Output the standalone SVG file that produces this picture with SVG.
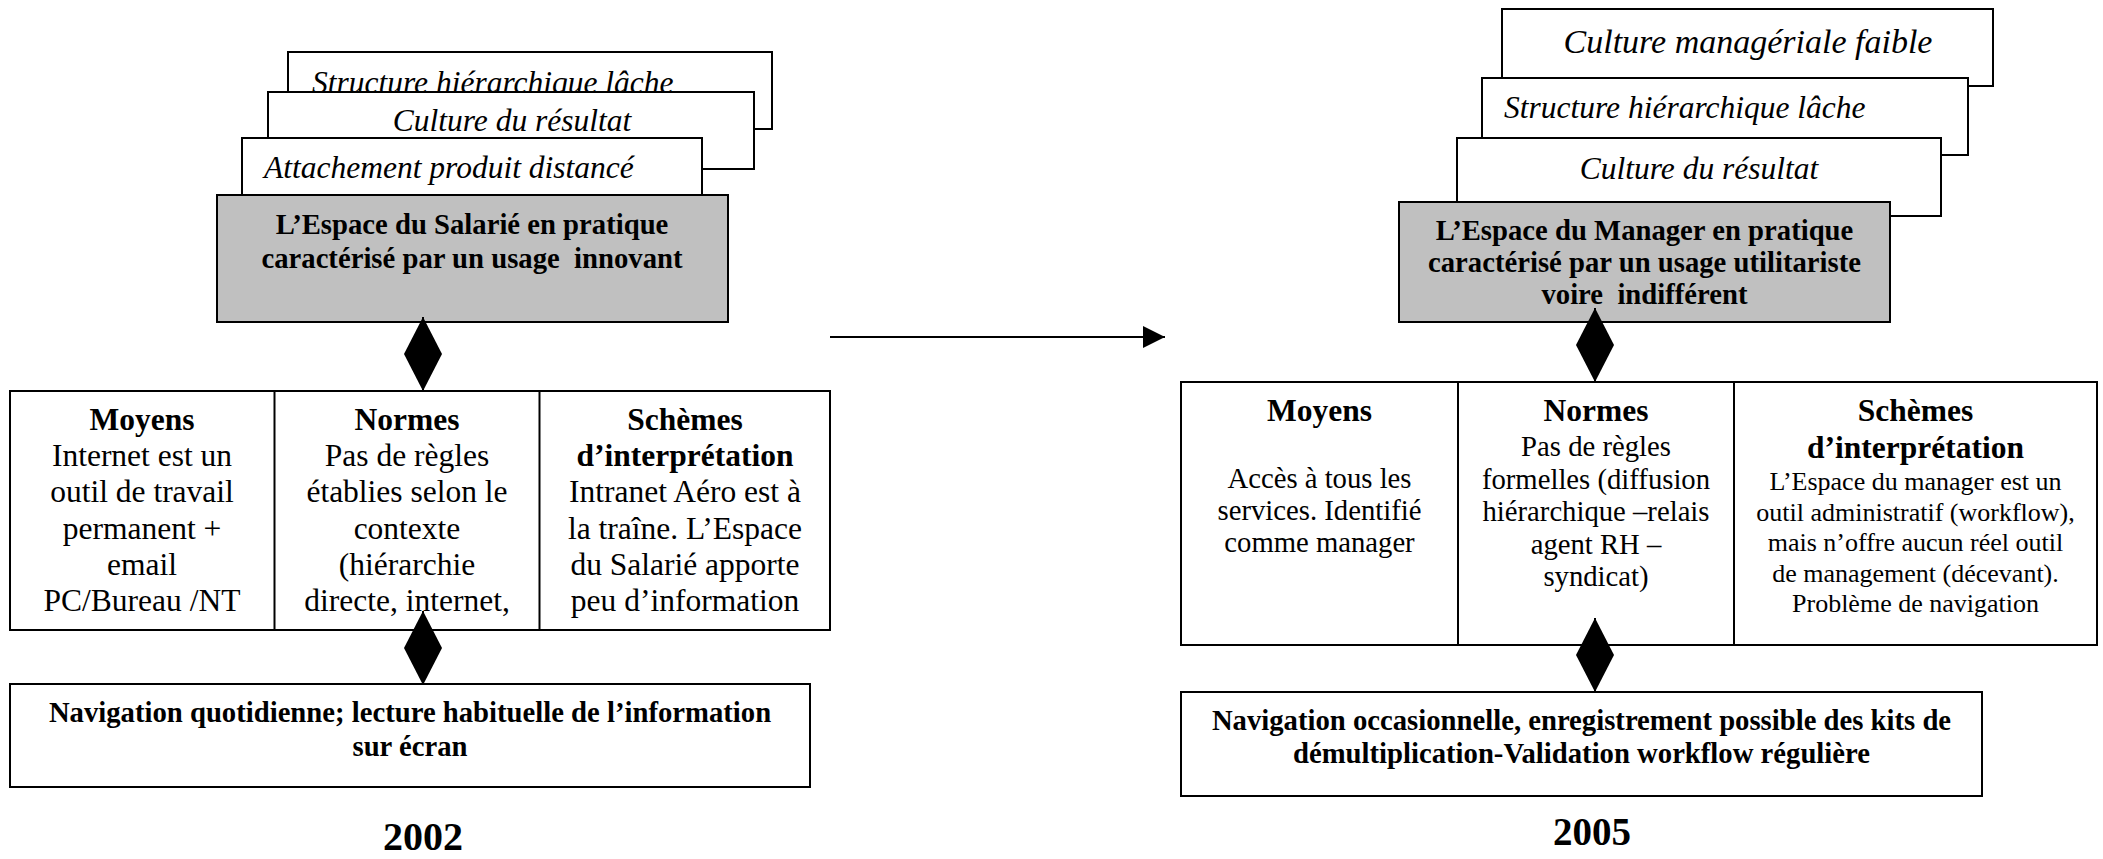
<svg xmlns="http://www.w3.org/2000/svg" width="2103" height="859" viewBox="0 0 2103 859">
<style>
.box{fill:#fff;stroke:#000;stroke-width:2}
.gray{fill:#c0c0c0;stroke:#000;stroke-width:2}
.ln{stroke:#000;stroke-width:2;fill:none}
text{font-family:"Liberation Serif","Times New Roman",serif;fill:#000;white-space:pre}
.it{font-style:italic;font-size:31.5px}
.b{font-weight:bold}
.c{text-anchor:middle}
.s32{font-size:31.5px}
.s29{font-size:28.7px}
.s26{font-size:26px}
.yr{font-size:40px;font-weight:bold;text-anchor:middle}
</style>
<defs>
<marker id="dh" viewBox="0 0 37 38" refX="37" refY="19" markerWidth="37" markerHeight="38" markerUnits="userSpaceOnUse" orient="auto-start-reverse"><path d="M0,0 L37,19 L0,38 Z" fill="#000"/></marker>
<marker id="ah" viewBox="0 0 22 22" refX="22" refY="11" markerWidth="22" markerHeight="22" markerUnits="userSpaceOnUse" orient="auto"><path d="M0,0 L22,11 L0,22 Z" fill="#000"/></marker>
</defs>

<!-- LEFT (2002) -->
<g id="l-structure">
<rect class="box" x="288" y="52" width="484" height="77"/>
<text class="it" x="312" y="93">Structure hiérarchique lâche</text>
</g>
<g id="l-culture">
<rect class="box" x="268" y="92" width="486" height="77"/>
<text class="it c" x="512" y="131">Culture du résultat</text>
</g>
<g id="l-attachement">
<rect class="box" x="242" y="138" width="460" height="57"/>
<text class="it" x="264" y="178">Attachement produit distancé</text>
</g>
<g id="l-espace">
<rect class="gray" x="217" y="195" width="511" height="127"/>
<text class="b c s29" x="472" y="234">L’Espace du Salarié en pratique</text>
<text class="b c s29" x="472" y="268">caractérisé par un usage  innovant</text>
</g>
<g id="l-table">
<rect class="box" x="10" y="391" width="820" height="239"/>
<line class="ln" x1="274.5" y1="391" x2="274.5" y2="630"/>
<line class="ln" x1="539.5" y1="391" x2="539.5" y2="630"/>
<g class="s32 c">
<text class="b" x="142" y="430">Moyens</text>
<text x="142" y="466">Internet est un</text>
<text x="142" y="502">outil de travail</text>
<text x="142" y="539">permanent +</text>
<text x="142" y="575">email</text>
<text x="142" y="611">PC/Bureau /NT</text>
<text class="b" x="407" y="430">Normes</text>
<text x="407" y="466">Pas de règles</text>
<text x="407" y="502">établies selon le</text>
<text x="407" y="539">contexte</text>
<text x="407" y="575">(hiérarchie</text>
<text x="407" y="611">directe, internet,</text>
<text class="b" x="685" y="430">Schèmes</text>
<text class="b" x="685" y="466">d’interprétation</text>
<text x="685" y="502">Intranet Aéro est à</text>
<text x="685" y="539">la traîne. L’Espace</text>
<text x="685" y="575">du Salarié apporte</text>
<text x="685" y="611">peu d’information</text>
</g>
</g>
<g id="l-usage">
<rect class="box" x="10" y="684" width="800" height="103"/>
<text class="b c s29" x="410" y="722">Navigation quotidienne; lecture habituelle de l’information</text>
<text class="b c s29" x="410" y="756">sur écran</text>
</g>
<g id="l-year"><text class="yr" x="423" y="850">2002</text></g>

<!-- RIGHT (2005) -->
<g id="r-culture-man">
<rect class="box" x="1502" y="9" width="491" height="77"/>
<text class="it c" style="font-size:34px" x="1748" y="53">Culture managériale faible</text>
</g>
<g id="r-structure">
<rect class="box" x="1482" y="78" width="486" height="77"/>
<text class="it" x="1504" y="118">Structure hiérarchique lâche</text>
</g>
<g id="r-culture">
<rect class="box" x="1457" y="138" width="484" height="78"/>
<text class="it c" x="1699" y="179">Culture du résultat</text>
</g>
<g id="r-espace">
<rect class="gray" x="1399" y="202" width="491" height="120"/>
<text class="b c s29" x="1644.5" y="240">L’Espace du Manager en pratique</text>
<text class="b c s29" x="1644.5" y="272">caractérisé par un usage utilitariste</text>
<text class="b c s29" x="1644.5" y="304">voire  indifférent</text>
</g>
<g id="r-table">
<rect class="box" x="1181" y="382" width="916" height="263"/>
<line class="ln" x1="1458" y1="382" x2="1458" y2="645"/>
<line class="ln" x1="1734" y1="382" x2="1734" y2="645"/>
<g class="c">
<text class="b s32" x="1319.5" y="421">Moyens</text>
<text class="s29" x="1319.5" y="488">Accès à tous les</text>
<text class="s29" x="1319.5" y="520">services. Identifié</text>
<text class="s29" x="1319.5" y="552">comme manager</text>
<text class="b s32" x="1596" y="421">Normes</text>
<text class="s29" x="1596" y="456">Pas de règles</text>
<text class="s29" x="1596" y="489">formelles (diffusion</text>
<text class="s29" x="1596" y="521">hiérarchique –relais</text>
<text class="s29" x="1596" y="554">agent RH –</text>
<text class="s29" x="1596" y="586">syndicat)</text>
<text class="b s32" x="1915.5" y="421">Schèmes</text>
<text class="b s32" x="1915.5" y="458">d’interprétation</text>
<text class="s26" x="1915.5" y="490">L’Espace du manager est un</text>
<text class="s26" x="1915.5" y="520.5">outil administratif (workflow),</text>
<text class="s26" x="1915.5" y="551">mais n’offre aucun réel outil</text>
<text class="s26" x="1915.5" y="581.5">de management (décevant).</text>
<text class="s26" x="1915.5" y="612">Problème de navigation</text>
</g>
</g>
<g id="r-usage">
<rect class="box" x="1181" y="692" width="801" height="104"/>
<text class="b c s29" x="1581.5" y="730">Navigation occasionnelle, enregistrement possible des kits de</text>
<text class="b c s29" x="1581.5" y="763">démultiplication-Validation workflow régulière</text>
</g>
<g id="r-year"><text class="yr" style="font-size:39px" x="1592" y="845">2005</text></g>

<!-- connectors -->
<g id="connectors">
<line class="ln" x1="423" y1="317" x2="423" y2="391" marker-start="url(#dh)" marker-end="url(#dh)"/>
<line class="ln" x1="423" y1="611" x2="423" y2="685" marker-start="url(#dh)" marker-end="url(#dh)"/>
<line class="ln" x1="1595" y1="308" x2="1595" y2="382" marker-start="url(#dh)" marker-end="url(#dh)"/>
<line class="ln" x1="1595" y1="618" x2="1595" y2="692" marker-start="url(#dh)" marker-end="url(#dh)"/>
<line class="ln" x1="830" y1="337" x2="1165" y2="337" marker-end="url(#ah)"/>
</g>
</svg>
